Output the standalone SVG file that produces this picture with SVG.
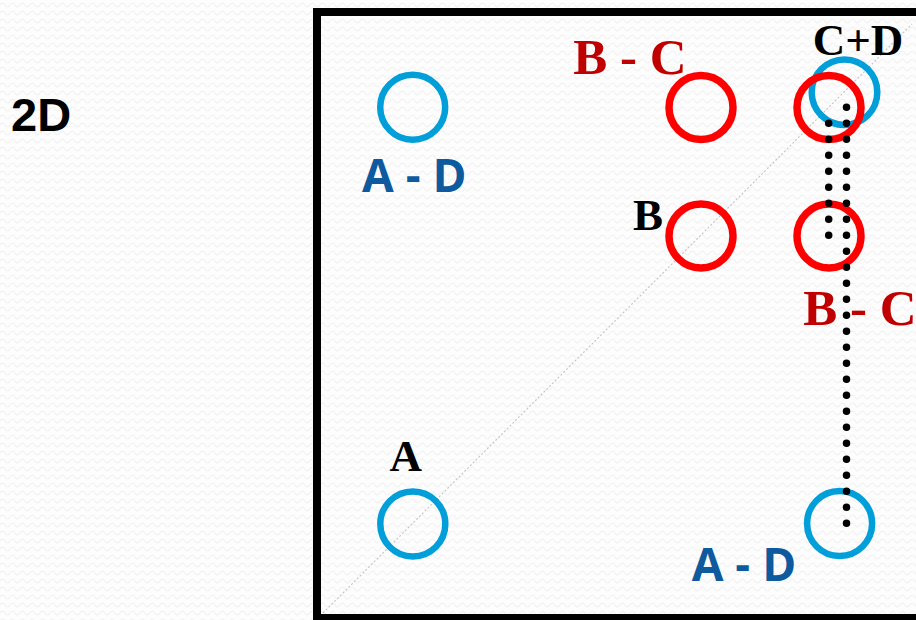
<svg xmlns="http://www.w3.org/2000/svg" width="916" height="620" viewBox="0 0 916 620">
  <style>
    .blue { fill: none; stroke: #009fda; stroke-width: 6.5; }
    .red { fill: none; stroke: #ff0000; stroke-width: 7.5; }
    .serif { font-family: "Liberation Serif", "Times New Roman", serif; font-weight: bold; }
    .sans { font-family: "Open Sans", "Liberation Sans", sans-serif; font-weight: bold; fill: #0d5a9e; }
    .redtxt { fill: #c00000; }
    .dots { fill: none; stroke: #000; stroke-width: 7.5; stroke-linecap: round; stroke-dasharray: 0 16; }
  </style>
  <defs>
    <pattern id="wave" width="10" height="8" patternUnits="userSpaceOnUse">
      <path d="M0 5 Q2.5 1 5 5 T10 5" fill="none" stroke="#f1f1f1" stroke-width="1.2"/>
    </pattern>
  </defs>
  <rect width="916" height="620" fill="#fdfdfd"/>
  <rect width="916" height="620" fill="url(#wave)"/>

  <g id="frame">
    <rect x="317" y="12" width="640" height="606" fill="none" stroke="#000" stroke-width="8"/>
    <line x1="323" y1="613" x2="912" y2="24" stroke="#c8c8c8" stroke-width="1.2" stroke-dasharray="2 2"/>
  </g>

  <text x="11" y="131" font-family="Liberation Sans, Arial, sans-serif" font-weight="bold" font-size="47" fill="#000">2D</text>

  <g id="nodeAD1">
    <circle class="blue" cx="412.7" cy="107.3" r="32.5"/>
    <text class="sans" x="362" y="191.7" font-size="46">A - D</text>
  </g>
  <g id="nodeA">
    <circle class="blue" cx="412.8" cy="524" r="32.5"/>
    <text class="serif" x="389.5" y="470.7" font-size="45" fill="#000">A</text>
  </g>
  <g id="nodeAD2">
    <circle class="blue" cx="839.6" cy="523.5" r="32.5"/>
    <text class="sans" x="691.7" y="581" font-size="46">A - D</text>
  </g>
  <g id="nodeBC1">
    <circle class="red" cx="701" cy="107.5" r="32"/>
    <text class="serif redtxt" x="573.3" y="74" font-size="51">B - C</text>
  </g>
  <g id="nodeB">
    <circle class="red" cx="701" cy="236" r="32"/>
    <text class="serif" x="633" y="230" font-size="45" fill="#000">B</text>
  </g>
  <g id="nodeCD">
    <circle class="blue" cx="844.5" cy="92.2" r="32.8"/>
    <circle class="red" cx="829" cy="107.5" r="32"/>
    <text class="serif" x="812.7" y="55" font-size="45" fill="#000">C+D</text>
  </g>
  <g id="nodeBC2">
    <circle class="red" cx="829" cy="236" r="32"/>
    <text class="serif redtxt" x="803.3" y="325" font-size="51">B - C</text>
  </g>

  <g id="connectors">
    <line class="dots" x1="828.7" y1="123.3" x2="828.7" y2="237"/>
    <line class="dots" x1="846.5" y1="107.3" x2="846.5" y2="525"/>
  </g>
</svg>
